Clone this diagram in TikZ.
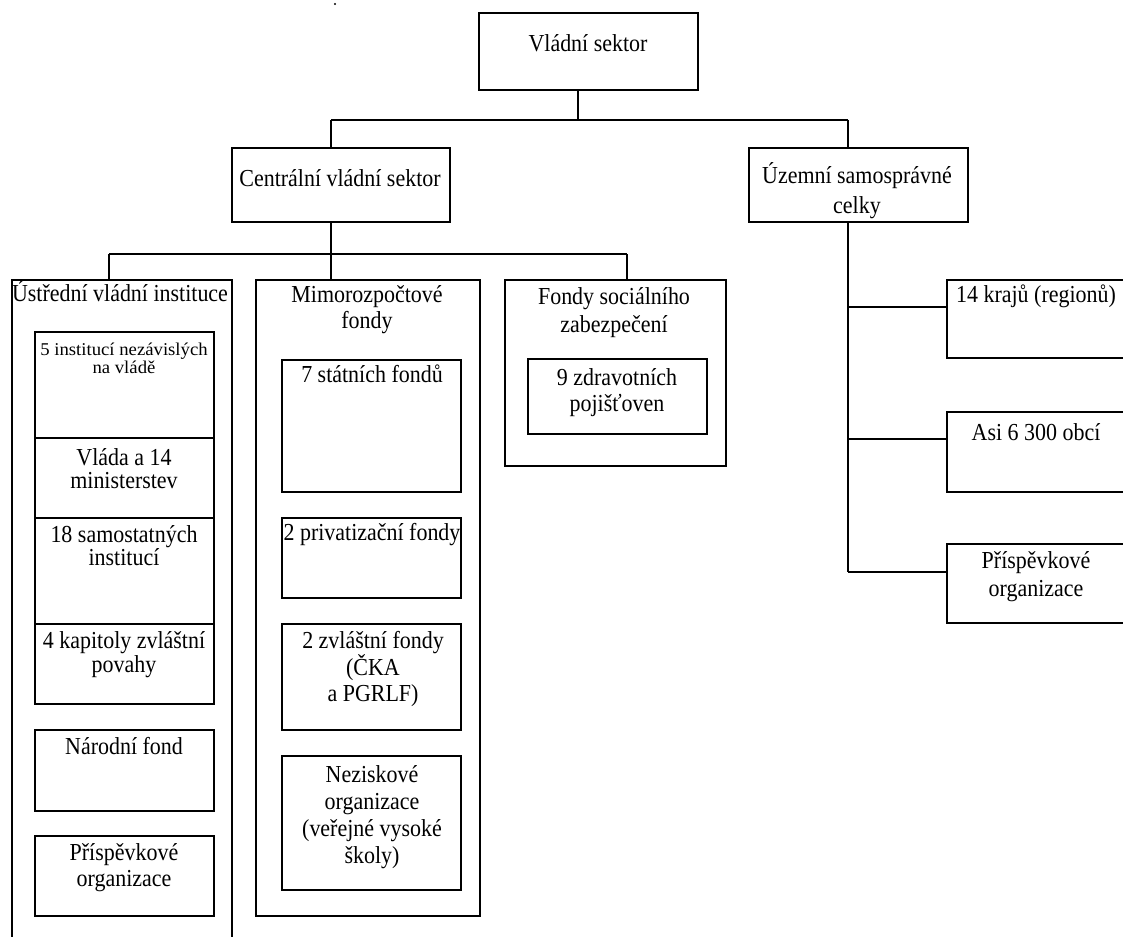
\documentclass[tikz,border=0pt]{standalone}
\usepackage{fontspec}
\setmainfont[FakeStretch=0.9]{Liberation Serif}
\newfontfamily\smallserif[FakeStretch=1.04]{Liberation Serif}
\newcommand{\tsx}{\rule{0pt}{22pt}}
\newcommand{\tss}{\rule{0pt}{14pt}}
\begin{document}
\begin{tikzpicture}[x=1pt,y=-1pt,
  box/.style={draw,line width=1.6pt,inner sep=0pt,outer sep=0pt,anchor=north west},
  lbl/.style={anchor=north,inner sep=0pt,outer sep=0pt,align=center,font=\fontsize{24.4}{26}\selectfont},
  conn/.style={line width=1.6pt}]
\useasboundingbox (0,0) rectangle (1123,936);
\clip (0,0) rectangle (1123,936);
\fill (335,4) circle (1.2pt);
% top level
\node[box,minimum width=219pt,minimum height=77pt] (vs) at (479,13) {};
\node[box,minimum width=218pt,minimum height=74pt] (cvs) at (232,148) {};
\node[box,minimum width=219pt,minimum height=74pt] (usc) at (749,148) {};
% central columns
\node[box,minimum width=220pt,minimum height=700pt] (uvi) at (12,280) {};
\node[box,minimum width=224pt,minimum height=636pt] (mf) at (256,280) {};
\node[box,minimum width=221pt,minimum height=186pt] (fse) at (505,280) {};
% left inner
\node[box,minimum width=179pt,minimum height=106pt] (a1) at (35,332) {};
\node[box,minimum width=179pt,minimum height=80pt] (a2) at (35,438) {};
\node[box,minimum width=179pt,minimum height=106pt] (a3) at (35,518) {};
\node[box,minimum width=179pt,minimum height=80pt] (a4) at (35,624) {};
\node[box,minimum width=179pt,minimum height=81pt] (a5) at (35,730) {};
\node[box,minimum width=179pt,minimum height=80pt] (a6) at (35,836) {};
% middle inner
\node[box,minimum width=179pt,minimum height=132pt] (b1) at (282,360) {};
\node[box,minimum width=179pt,minimum height=80pt] (b2) at (282,518) {};
\node[box,minimum width=179pt,minimum height=106pt] (b3) at (282,624) {};
\node[box,minimum width=179pt,minimum height=134pt] (b4) at (282,756) {};
% social inner
\node[box,minimum width=179pt,minimum height=75pt] (c1) at (528,359) {};
% right
\node[box,minimum width=200pt,minimum height=78pt] (r1) at (947,280) {};
\node[box,minimum width=200pt,minimum height=80pt] (r2) at (947,412) {};
\node[box,minimum width=200pt,minimum height=79pt] (r3) at (947,544) {};
% labels
\node[lbl] (tvs) at (588,30) {\tsx Vládní sektor};
\node[lbl] (tcvs) at (340,164) {\tsx Centrální vládní sektor};
\node[lbl,font=\fontsize{24.4}{30}\selectfont] (tusc) at (857,161) {\tsx Územní samosprávné\\celky};
\node[lbl] (tuvi) at (120,279) {\tsx Ústřední vládní instituce};
\node[lbl,font=\smallserif\fontsize{18}{18}\selectfont] (ta1) at (124,341) {\tss 5 institucí nezávislých\\na vládě};
\node[lbl,font=\fontsize{24.4}{23}\selectfont] (ta2) at (124,443) {\tsx Vláda a 14\\ministerstev};
\node[lbl,font=\fontsize{24.4}{22}\selectfont] (ta3) at (124,520) {\tsx 18 samostatných\\institucí};
\node[lbl,font=\fontsize{24.4}{24}\selectfont] (ta4) at (124,626) {\tsx 4 kapitoly zvláštní\\povahy};
\node[lbl] (ta5) at (124,732) {\tsx Národní fond};
\node[lbl] (ta6) at (124,838) {\tsx Příspěvkové\\organizace};
\node[lbl] (tmf) at (367,280) {\tsx Mimorozpočtové\\fondy};
\node[lbl] (tb1) at (372,360) {\tsx 7 státních fondů};
\node[lbl] (tb2) at (372,518) {\tsx 2 privatizační fondy};
\node[lbl] (tb3) at (373,626) {\tsx 2 zvláštní fondy\\(ČKA\\a PGRLF)};
\node[lbl,font=\fontsize{24.4}{27}\selectfont] (tb4) at (372,760) {\tsx Neziskové\\organizace\\(veřejné vysoké\\školy)};
\node[lbl,font=\fontsize{24.4}{28}\selectfont] (tfse) at (614,282) {\tsx Fondy sociálního\\zabezpečení};
\node[lbl] (tc1) at (617,363) {\tsx 9 zdravotních\\pojišťoven};
\node[lbl] (tr1) at (1036,280) {\tsx 14 krajů (regionů)};
\node[lbl] (tr2) at (1036,418) {\tsx Asi 6 300 obcí};
\node[lbl,font=\fontsize{24.4}{28}\selectfont] (tr3) at (1036,546) {\tsx Příspěvkové\\organizace};
% connectors
\coordinate (j0) at (578,120);
\coordinate (jc) at (331,120);
\coordinate (ju) at (848,120);
\draw[conn] (vs.south -| j0) -- (j0);
\draw[conn] (jc) -- (ju);
\draw[conn] (jc) -- (cvs.north -| jc);
\draw[conn] (ju) -- (usc.north -| ju);
\coordinate (ka) at (109,254);
\coordinate (kb) at (331,254);
\coordinate (kc) at (627,254);
\draw[conn] (cvs.south -| kb) -- (mf.north -| kb);
\draw[conn] (ka) -- (kc);
\draw[conn] (ka) -- (uvi.north -| ka);
\draw[conn] (kc) -- (fse.north -| kc);
\coordinate (h1) at (848,307);
\coordinate (h2) at (848,439);
\coordinate (h3) at (848,572);
\draw[conn] (usc.south -| ju) -- (h3);
\draw[conn] (h1) -- (r1.west |- h1);
\draw[conn] (h2) -- (r2.west |- h2);
\draw[conn] (h3) -- (r3.west |- h3);
\end{tikzpicture}
\end{document}
